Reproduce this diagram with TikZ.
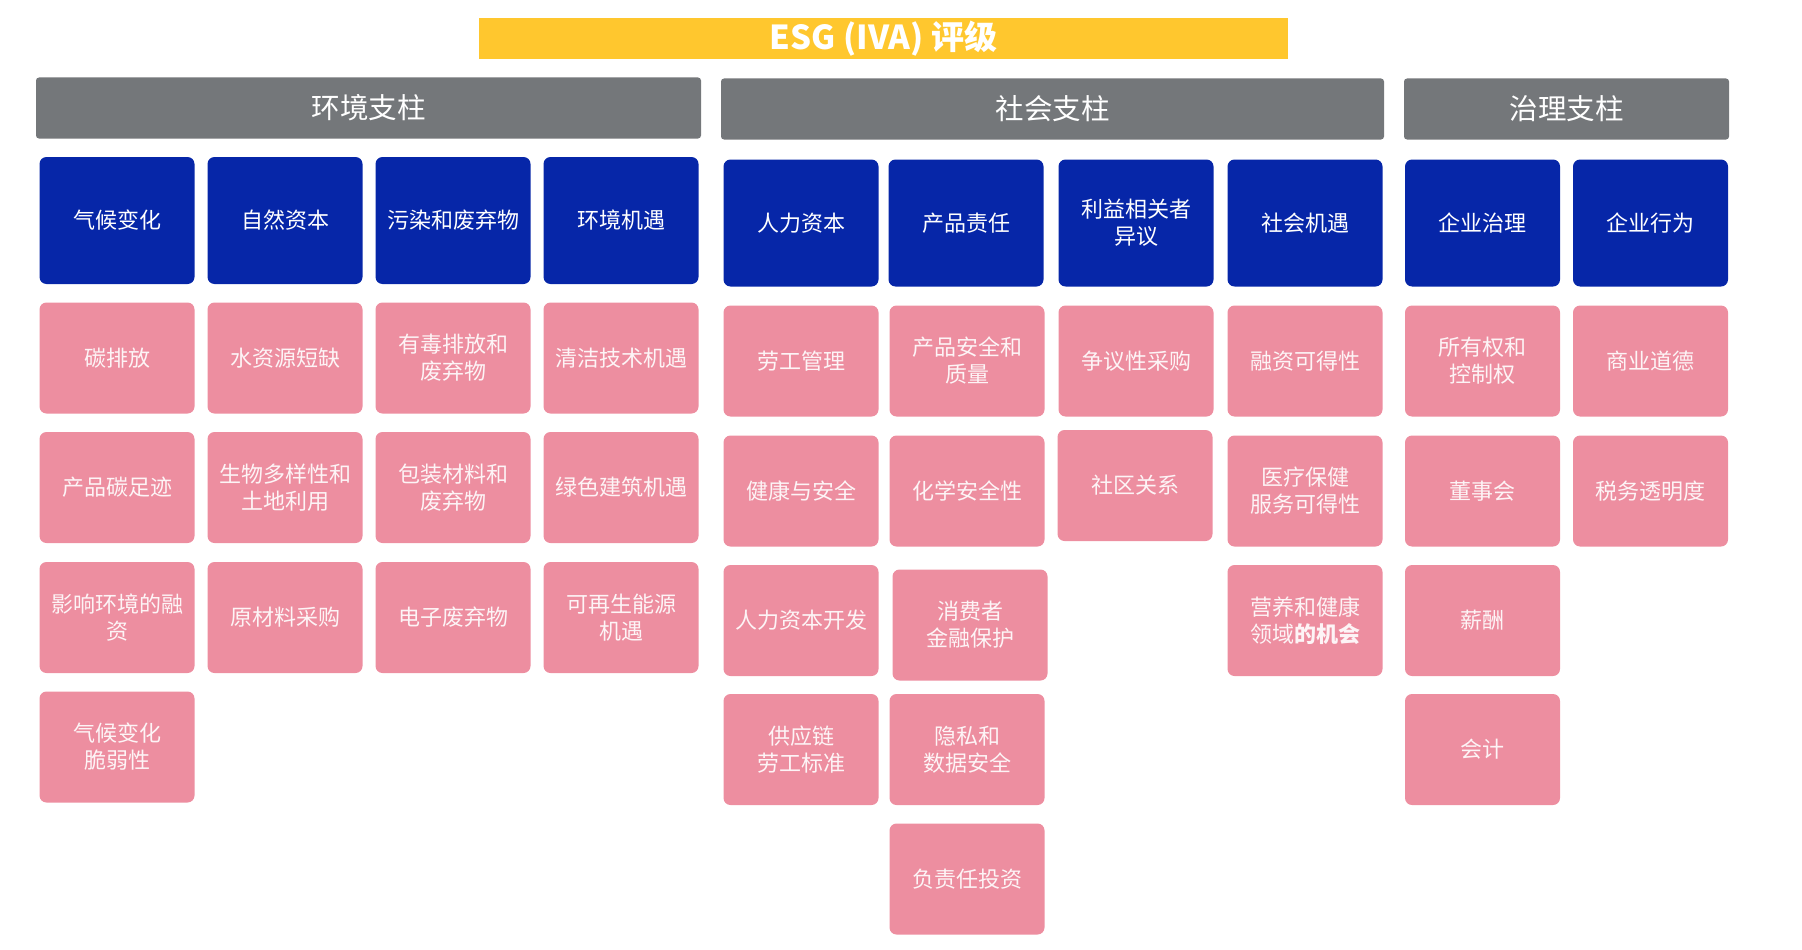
\documentclass[tikz,border=0pt]{standalone}
\usepackage{fontspec}
\usepackage{tikz}
\newfontfamily\cjk{Noto Sans CJK SC}
\definecolor{esgyellow}{RGB}{255,199,46}
\definecolor{esggray}{RGB}{116,119,122}
\definecolor{esgblue}{RGB}{6,38,168}
\definecolor{esgpink}{RGB}{237,142,160}
\tikzset{
  bar/.style={rectangle, fill=esggray, rounded corners=3pt, text=white, minimum height=61pt, font=\cjk\fontsize{28.5}{32}\selectfont},
  theme/.style={rectangle, fill=esgblue, rounded corners=7pt, text=white, minimum width=155pt, minimum height=127pt, align=center, font=\cjk\fontsize{22}{27}\selectfont},
  issue/.style={rectangle, fill=esgpink, rounded corners=7pt, text=white!90!esgpink, minimum width=155pt, minimum height=111pt, align=center, font=\cjk\fontsize{22}{27}\selectfont}
}
\begin{document}
\begin{tikzpicture}[x=1pt,y=-1pt]
\useasboundingbox (0,0) rectangle (1802,950);
% Title
\node[rectangle, fill=esgyellow, text=white, minimum width=809pt, minimum height=41pt, inner sep=0pt, font=\cjk\bfseries\fontsize{33}{34}\selectfont] (title) at (883.5,38.5) {ESG (IVA) 评级};

% Pillars
\node[bar, minimum width=665pt] (env) at (368.5,108) {环境支柱};
\node[bar, minimum width=663pt] (soc) at (1052.5,109) {社会支柱};
\node[bar, minimum width=325pt] (gov) at (1566.5,109) {治理支柱};

% Environment themes
\node[theme] (envA) at (117,220.5) {气候变化};
\node[theme] (envB) at (285,220.5) {自然资本};
\node[theme] (envC) at (453,220.5) {污染和废弃物};
\node[theme] (envD) at (621,220.5) {环境机遇};

% Environment issues
\node[issue] (envA1) at (117,358) {碳排放};
\node[issue] (envA2) at (117,487.5) {产品碳足迹};
\node[issue] (envA3) at (117,617.5) {影响环境的融\\资};
\node[issue] (envA4) at (117,747) {气候变化\\脆弱性};
\node[issue] (envB1) at (285,358) {水资源短缺};
\node[issue] (envB2) at (285,487.5) {生物多样性和\\土地利用};
\node[issue] (envB3) at (285,617.5) {原材料采购};
\node[issue] (envC1) at (453,358) {有毒排放和\\废弃物};
\node[issue] (envC2) at (453,487.5) {包装材料和\\废弃物};
\node[issue] (envC3) at (453,617.5) {电子废弃物};
\node[issue] (envD1) at (621,358) {清洁技术机遇};
\node[issue] (envD2) at (621,487.5) {绿色建筑机遇};
\node[issue] (envD3) at (621,617.5) {可再生能源\\机遇};

% Social themes
\node[theme] (socA) at (801,223) {人力资本};
\node[theme] (socB) at (966,223) {产品责任};
\node[theme] (socC) at (1136,223) {利益相关者\\异议};
\node[theme] (socD) at (1305,223) {社会机遇};

% Social issues
\node[issue] (socA1) at (801,361) {劳工管理};
\node[issue] (socA2) at (801,491) {健康与安全};
\node[issue] (socA3) at (801,620.5) {人力资本开发};
\node[issue] (socA4) at (801,749.5) {供应链\\劳工标准};
\node[issue] (socB1) at (967,361) {产品安全和\\质量};
\node[issue] (socB2) at (967,491) {化学安全性};
\node[issue] (socB3) at (970,625) {消费者\\金融保护};
\node[issue] (socB4) at (967,749.5) {隐私和\\数据安全};
\node[issue] (socB5) at (967,879) {负责任投资};
\node[issue] (socC1) at (1136,361) {争议性采购};
\node[issue] (socC2) at (1135,485.5) {社区关系};
\node[issue] (socD1) at (1305,361) {融资可得性};
\node[issue] (socD2) at (1305,491) {医疗保健\\服务可得性};
\node[issue] (socD3) at (1305,620.5) {营养和健康\\领域{\bfseries 的机会}};

% Governance themes
\node[theme] (govA) at (1482.5,223) {企业治理};
\node[theme] (govB) at (1650.5,223) {企业行为};

% Governance issues
\node[issue] (govA1) at (1482.5,361) {所有权和\\控制权};
\node[issue] (govA2) at (1482.5,491) {董事会};
\node[issue] (govA3) at (1482.5,620.5) {薪酬};
\node[issue] (govA4) at (1482.5,749.5) {会计};
\node[issue] (govB1) at (1650.5,361) {商业道德};
\node[issue] (govB2) at (1650.5,491) {税务透明度};
\end{tikzpicture}
\end{document}
